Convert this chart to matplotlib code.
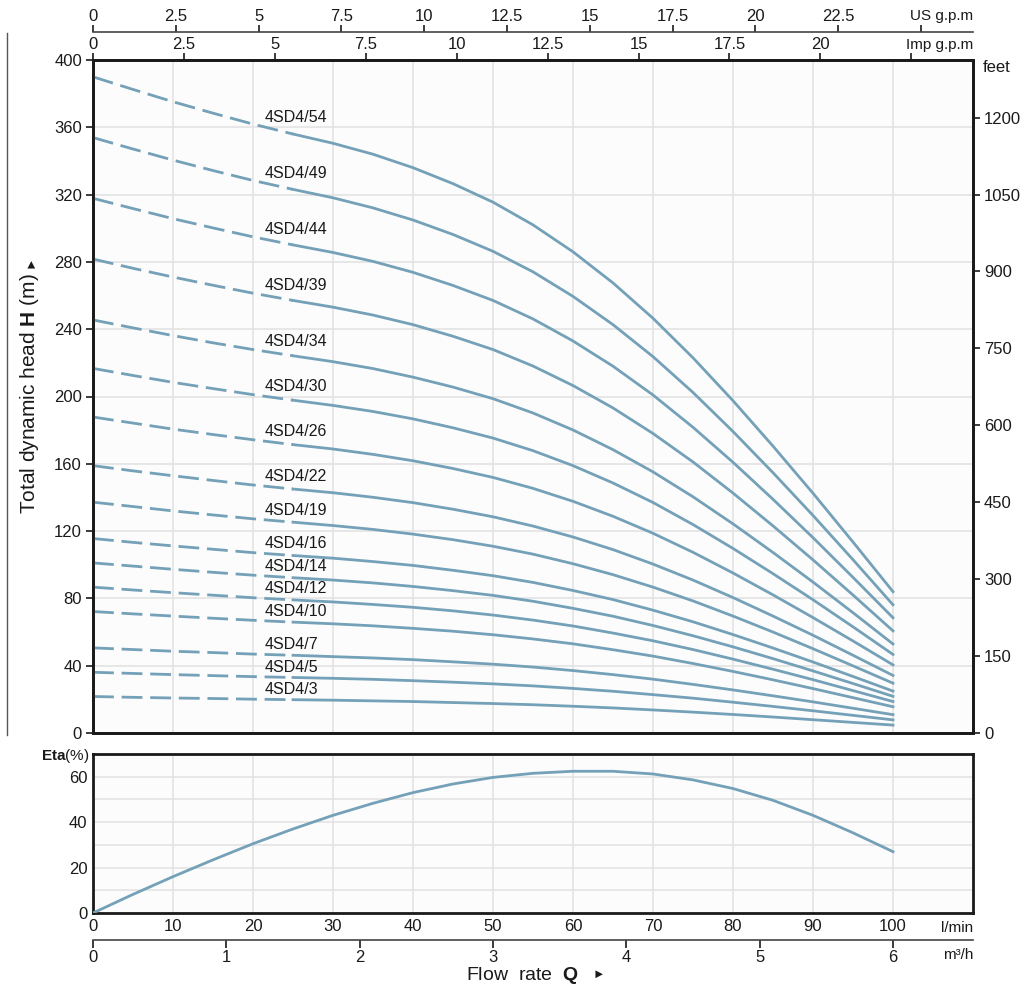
import numpy as np
import matplotlib
matplotlib.use('Agg')
import matplotlib.pyplot as plt
from matplotlib.lines import Line2D

plt.rcParams['font.family'] = ['Liberation Sans', 'DejaVu Sans']
plt.rcParams['mathtext.fontset'] = 'custom'
plt.rcParams['mathtext.rm'] = 'Liberation Sans'
plt.rcParams['mathtext.bf'] = 'Liberation Sans:bold'

# flow rate in l/min, read every 5 l/min
flow = np.arange(0, 101, 5)

# head (m) of each pump model
head_54 = [390.0, 382.5, 375.2, 368.4, 361.9, 356.0, 350.5, 344.0, 336.0, 326.5, 315.5, 302.0, 286.0, 267.5, 246.5, 223.0, 197.5, 170.5, 142.5, 113.5, 84.0]
head_49 = [353.9, 347.1, 340.5, 334.3, 328.4, 323.1, 318.1, 312.1, 304.9, 296.3, 286.3, 274.1, 259.5, 242.7, 223.7, 202.4, 179.2, 154.7, 129.3, 103.0, 76.2]
head_44 = [317.8, 311.7, 305.7, 300.2, 294.9, 290.1, 285.6, 280.3, 273.8, 266.0, 257.1, 246.1, 233.0, 218.0, 200.9, 181.7, 160.9, 138.9, 116.1, 92.5, 68.5]
head_39 = [281.7, 276.2, 271.0, 266.1, 261.4, 257.1, 253.1, 248.4, 242.7, 235.8, 227.9, 218.1, 206.5, 193.2, 178.0, 161.1, 142.6, 123.1, 102.9, 82.0, 60.7]
head_34 = [245.5, 240.8, 236.2, 231.9, 227.9, 224.2, 220.7, 216.6, 211.5, 205.6, 198.7, 190.2, 180.1, 168.4, 155.2, 140.4, 124.3, 107.3, 89.7, 71.5, 52.9]
head_30 = [216.7, 212.5, 208.4, 204.7, 201.1, 197.8, 194.7, 191.1, 186.7, 181.4, 175.3, 167.8, 158.9, 148.6, 137.0, 123.9, 109.7, 94.7, 79.2, 63.1, 46.7]
head_26 = [187.8, 184.2, 180.6, 177.4, 174.3, 171.4, 168.8, 165.6, 161.8, 157.2, 151.9, 145.4, 137.7, 128.8, 118.7, 107.4, 95.1, 82.1, 68.6, 54.7, 40.5]
head_22 = [158.9, 155.8, 152.9, 150.1, 147.4, 145.0, 142.8, 140.1, 136.9, 133.0, 128.5, 123.0, 116.5, 109.0, 100.4, 90.9, 80.5, 69.5, 58.1, 46.2, 34.2]
head_19 = [137.2, 134.6, 132.0, 129.6, 127.3, 125.3, 123.3, 121.0, 118.2, 114.9, 111.0, 106.3, 100.6, 94.1, 86.7, 78.5, 69.5, 60.0, 50.1, 39.9, 29.6]
head_16 = [115.6, 113.3, 111.2, 109.2, 107.2, 105.5, 103.9, 101.9, 99.6, 96.7, 93.5, 89.5, 84.7, 79.3, 73.0, 66.1, 58.5, 50.5, 42.2, 33.6, 24.9]
head_14 = [101.1, 99.2, 97.3, 95.5, 93.8, 92.3, 90.9, 89.2, 87.1, 84.6, 81.8, 78.3, 74.1, 69.4, 63.9, 57.8, 51.2, 44.2, 36.9, 29.4, 21.8]
head_12 = [86.7, 85.0, 83.4, 81.9, 80.4, 79.1, 77.9, 76.4, 74.7, 72.6, 70.1, 67.1, 63.6, 59.4, 54.8, 49.6, 43.9, 37.9, 31.7, 25.2, 18.7]
head_10 = [72.2, 70.8, 69.5, 68.2, 67.0, 65.9, 64.9, 63.7, 62.2, 60.5, 58.4, 55.9, 53.0, 49.5, 45.7, 41.3, 36.6, 31.6, 26.4, 21.0, 15.6]
head_7 = [50.6, 49.6, 48.6, 47.8, 46.9, 46.2, 45.4, 44.6, 43.6, 42.3, 40.9, 39.2, 37.1, 34.7, 32.0, 28.9, 25.6, 22.1, 18.5, 14.7, 10.9]
head_5 = [36.1, 35.4, 34.7, 34.1, 33.5, 33.0, 32.5, 31.9, 31.1, 30.2, 29.2, 28.0, 26.5, 24.8, 22.8, 20.7, 18.3, 15.8, 13.2, 10.5, 7.8]
head_3 = [21.7, 21.2, 20.8, 20.5, 20.1, 19.8, 19.5, 19.1, 18.7, 18.1, 17.5, 16.8, 15.9, 14.9, 13.7, 12.4, 11.0, 9.5, 7.9, 6.3, 4.7]

models = ['4SD4/54', '4SD4/49', '4SD4/44', '4SD4/39', '4SD4/34', '4SD4/30', '4SD4/26', '4SD4/22',
          '4SD4/19', '4SD4/16', '4SD4/14', '4SD4/12', '4SD4/10', '4SD4/7', '4SD4/5', '4SD4/3']
heads = [head_54, head_49, head_44, head_39, head_34, head_30, head_26, head_22,
         head_19, head_16, head_14, head_12, head_10, head_7, head_5, head_3]

# efficiency (%)
eta = [0, 8.2, 16.0, 23.4, 30.5, 37.0, 43.0, 48.3, 53.0, 56.8, 59.7, 61.5, 62.4, 62.4, 61.2, 58.6, 54.8, 49.6, 43.0, 35.3, 27.0]

W, H = 1022, 989
col = '#74a1b8'
grid_col = '#e3e3e3'
txt = '#1a1a1a'


def fx(x):
    return x / W


def fy(y):
    return 1 - y / H


fig = plt.figure(figsize=(W / 100, H / 100), dpi=100)
ax = fig.add_axes([fx(93), fy(733), 880 / W, 673 / H])
ax_eta = fig.add_axes([fx(93), fy(913), 880 / W, 159 / H])

# head curves: dashed below 25 l/min, solid after
for name, h in zip(models, heads):
    h = np.array(h)
    low = flow <= 25
    high = flow >= 25
    ax.plot(flow[low], h[low], color=col, lw=2, ls=(0, (7.5, 2.8)), zorder=3)
    ax.plot(flow[high], h[high], color=col, lw=2, zorder=3)
    ax.text(21.4, np.interp(21.4, flow, h) + 5.8, name, fontsize=11.5, color=txt,
            ha='left', va='center', zorder=4)

ax.set_xlim(0, 110)
ax.set_ylim(0, 400)
ax.set_xticks(np.arange(0, 101, 10))
ax.set_yticks(np.arange(0, 401, 40))
ax.tick_params(axis='x', bottom=False, labelbottom=False)
ax.tick_params(axis='y', direction='out', length=5, width=1.2, labelsize=12, pad=3, colors=txt)
ax.grid(color=grid_col, lw=1.2)
ax.set_axisbelow(True)
ax.set_facecolor('#fcfcfc')
for s in ax.spines.values():
    s.set_linewidth(2)
    s.set_color(txt)

# feet on the right
axr = ax.twinx()
axr.set_ylim(0, 400 * 3.28084)
axr.set_yticks(np.arange(0, 1201, 150))
axr.tick_params(axis='y', direction='out', length=5, width=1.2, labelsize=12, pad=3, colors=txt)
for s in axr.spines.values():
    s.set_linewidth(2)
    s.set_color(txt)

# Imp g.p.m on the top frame
sec_imp = ax.secondary_xaxis('top', functions=(lambda q: q / 4.546, lambda g: g * 4.546))
imp_ticks = np.arange(0, 22.6, 2.5)
sec_imp.set_xticks(imp_ticks, labels=['0', '2.5', '5', '7.5', '10', '12.5', '15', '17.5', '20', ''])
sec_imp.tick_params(direction='out', length=5, width=1.2, labelsize=12, pad=1, colors=txt)
sec_imp.spines['top'].set_linewidth(0)

# US g.p.m on a line above
sec_us = ax.secondary_xaxis(1 + 28 / 673, functions=(lambda q: q / 4.14, lambda g: g * 4.14))
us_ticks = np.arange(0, 25.1, 2.5)
sec_us.set_xticks(us_ticks, labels=['0', '2.5', '5', '7.5', '10', '12.5', '15', '17.5', '20', '22.5', ''])
sec_us.tick_params(direction='out', length=5, width=1.2, labelsize=12, pad=1, colors=txt)
sec_us.spines['top'].set_linewidth(1.2)
sec_us.spines['top'].set_color('#444444')

# efficiency panel
ax_eta.plot(flow, eta, color=col, lw=2, zorder=3)
ax_eta.set_xlim(0, 110)
ax_eta.set_ylim(0, 70)
ax_eta.set_xticks(np.arange(0, 101, 10))
ax_eta.set_yticks(np.arange(0, 71, 10), labels=['0', '', '20', '', '40', '', '60', ''])
ax_eta.tick_params(length=0, labelsize=12, pad=4, colors=txt)
ax_eta.grid(color=grid_col, lw=1.2)
ax_eta.set_axisbelow(True)
ax_eta.set_facecolor('#fcfcfc')
for s in ax_eta.spines.values():
    s.set_linewidth(2)
    s.set_color(txt)

sec_m3 = ax_eta.secondary_xaxis(-27 / 159, functions=(lambda q: q * 0.06, lambda m: m / 0.06))
sec_m3.set_xticks(np.arange(0, 7, 1))
sec_m3.tick_params(direction='out', length=6, width=1.2, labelsize=12, pad=1, colors=txt)
sec_m3.spines['bottom'].set_linewidth(1.2)
sec_m3.spines['bottom'].set_color('#444444')

# unit labels and titles
fig.text(fx(973), fy(16), 'US g.p.m', fontsize=11, color=txt, ha='right', va='center')
fig.text(fx(973), fy(45), 'Imp g.p.m', fontsize=11, color=txt, ha='right', va='center')
fig.text(fx(983), fy(68), 'feet', fontsize=12, color=txt, ha='left', va='center')
fig.text(fx(973), fy(928), 'l/min', fontsize=11, color=txt, ha='right', va='center')
fig.text(fx(973), fy(955), 'm³/h', fontsize=11, color=txt, ha='right', va='center')
fig.text(fx(90), fy(756), r'$\mathbf{Eta}$(%)', fontsize=11, color=txt, ha='right', va='center')
fig.text(fx(522), fy(975), r'Flow  rate  $\mathbf{Q}$', fontsize=14, color=txt, ha='center', va='center')
fig.text(fx(599), fy(975), '►', fontsize=9, color=txt, ha='center', va='center')
fig.text(fx(30), fy(394), r'Total dynamic head $\mathbf{H}$ (m)', fontsize=15, color=txt,
         ha='center', va='center', rotation=90)
fig.text(fx(30), fy(262), '►', fontsize=9, color=txt, ha='center', va='center', rotation=90)

fig.add_artist(Line2D([fx(7), fx(7)], [fy(33), fy(735)], lw=1, color='#555555'))

fig.savefig('out.png', dpi=100)
